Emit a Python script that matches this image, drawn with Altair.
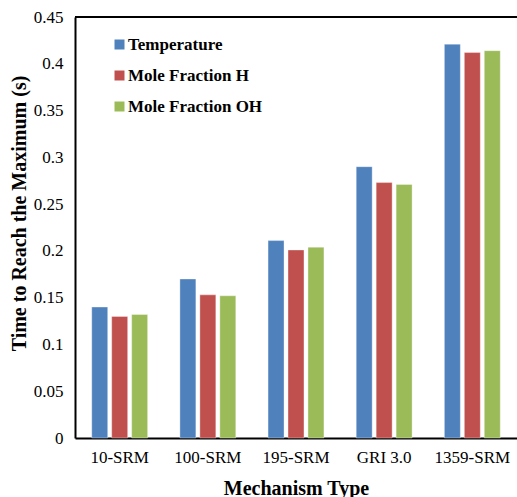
import altair as alt
import pandas as pd

mechanisms = ["10-SRM", "100-SRM", "195-SRM", "GRI 3.0", "1359-SRM"]
series = ["Temperature", "Mole Fraction H", "Mole Fraction OH"]
temperature = [0.140, 0.170, 0.211, 0.290, 0.421]
mole_h = [0.130, 0.153, 0.201, 0.273, 0.412]
mole_oh = [0.132, 0.152, 0.204, 0.271, 0.414]
colors = ["#4F81BD", "#C0504D", "#9BBB59"]
y_ticks = [0, 0.05, 0.1, 0.15, 0.2, 0.25, 0.3, 0.35, 0.4, 0.45]

rows = []
for name, vals in zip(series, [temperature, mole_h, mole_oh]):
    for m, v in zip(mechanisms, vals):
        rows.append({"Mechanism": m, "Series": name, "Value": v})
df = pd.DataFrame(rows)

FONT = "Liberation Serif"

bars = alt.Chart(df).mark_bar(stroke="white", strokeWidth=0.6, strokeOpacity=0.6).encode(
    x=alt.X("Mechanism:N", sort=mechanisms,
            scale=alt.Scale(paddingInner=0.366, paddingOuter=0.19),
            axis=alt.Axis(title="Mechanism Type", labelAngle=0, ticks=False,
                          labelPadding=11, labelFontSize=17,
                          labelColor="black", titleFontSize=20,
                          titleFontWeight="bold", titleColor="black",
                          titleBaseline="alphabetic", titleY=56,
                          domainColor="black", domainWidth=2)),
    xOffset=alt.XOffset("Series:N", sort=series,
                        scale=alt.Scale(paddingInner=0.2, paddingOuter=0)),
    y=alt.Y("Value:Q", scale=alt.Scale(domain=[0, 0.45], nice=False),
            axis=alt.Axis(title="Time to Reach the Maximum (s)", values=y_ticks,
                          format="~g", grid=False, ticks=False, labelPadding=12,
                          labelFontSize=17, labelColor="black",
                          titleFontSize=20, titleFontWeight="bold",
                          titleColor="black", titleX=-56, titleY=196,
                          titleBaseline="middle", titleAngle=270,
                          domainColor="black", domainWidth=2)),
    color=alt.Color("Series:N", sort=series,
                    scale=alt.Scale(domain=series, range=colors),
                    legend=alt.Legend(title=None, orient="none", legendX=36,
                                      legendY=19, symbolType="square",
                                      symbolSize=100, symbolStrokeWidth=0,
                                      labelFontSize=17,
                                      labelFontWeight="bold", labelColor="black",
                                      labelOffset=0, rowPadding=13,
                                      symbolOpacity=1)),
)

top_line = alt.Chart(pd.DataFrame({"v": [0.45]})).mark_rule(
    color="black", strokeWidth=2).encode(y="v:Q")

chart = alt.layer(bars, top_line).properties(
    width=442, height=421,
    autosize=alt.AutoSizeParams(type="none"),
    padding={"left": 75, "top": 17, "right": 0, "bottom": 59},
).configure(
    background="white", font=FONT
).configure_view(stroke=None).configure_axis(
    labelFont=FONT, titleFont=FONT
).configure_legend(labelFont=FONT)

chart.save("out.html", embed_options={"renderer": "svg", "actions": False})
